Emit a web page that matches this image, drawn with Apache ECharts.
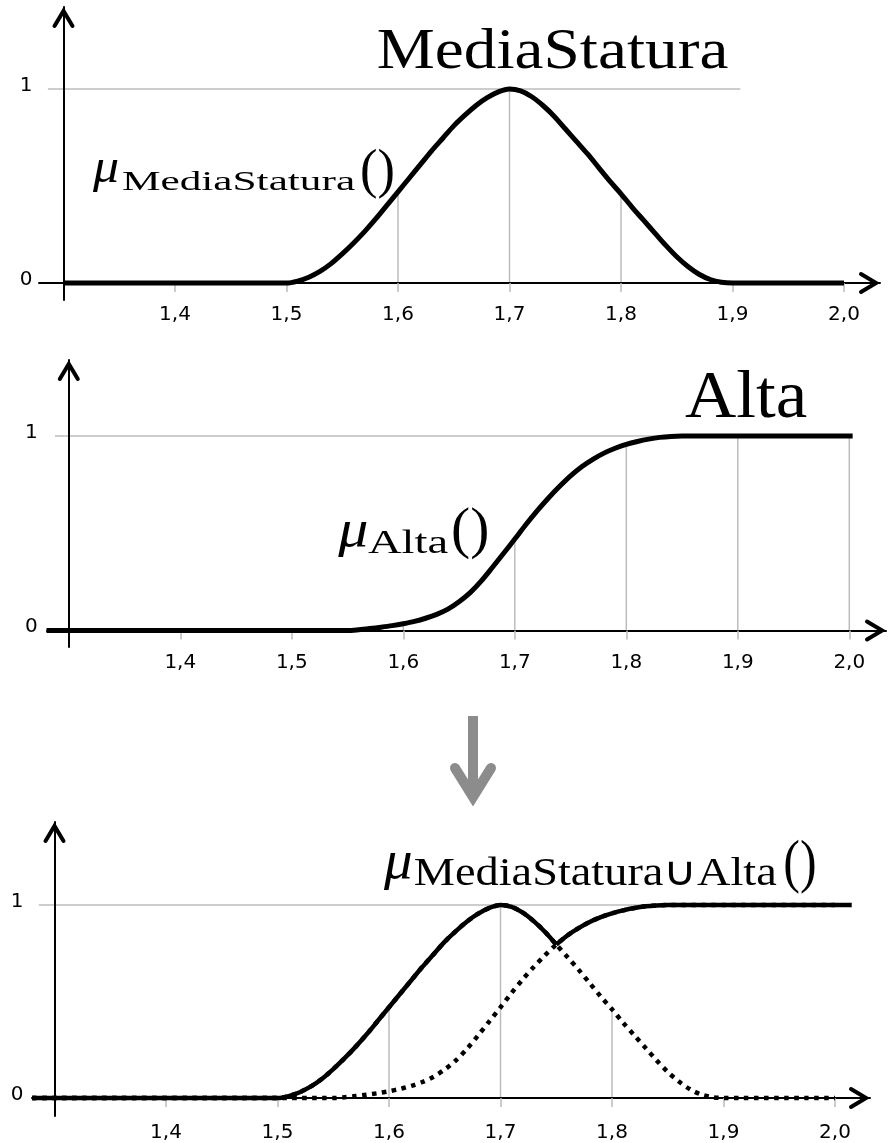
<!DOCTYPE html>
<html>
<head>
<meta charset="utf-8">
<script src="https://cdn.jsdelivr.net/npm/echarts@6.0.0/dist/echarts.min.js"></script>
<style>
  html, body { margin: 0; padding: 0; background: #fff; }
  #chart { width: 890px; height: 1143px; }
</style>
</head>
<body>
<div id="chart"></div>
<script>
// Heights (m) at which the two membership functions are sampled
const heights = [
  1.30,
  1.50, 1.51, 1.52, 1.53, 1.54, 1.55, 1.56, 1.57, 1.58, 1.59,
  1.60, 1.61, 1.62, 1.63, 1.64, 1.65, 1.66, 1.67, 1.68, 1.69,
  1.70, 1.71, 1.72, 1.73, 1.74, 1.75, 1.76, 1.77, 1.78, 1.79,
  1.80, 1.81, 1.82, 1.83, 1.84, 1.85, 1.86, 1.87, 1.88, 1.89,
  1.90,
  2.00
];

// Membership degree of "MediaStatura"
const mediaStatura = [
  0,
  0, 0.01, 0.03, 0.06, 0.10, 0.15, 0.205, 0.265, 0.33, 0.40,
  0.47, 0.54, 0.61, 0.68, 0.745, 0.81, 0.865, 0.915, 0.955, 0.985,
  1.00, 0.99, 0.96, 0.915, 0.86, 0.795, 0.73, 0.665, 0.595, 0.525,
  0.46, 0.39, 0.325, 0.26, 0.195, 0.135, 0.085, 0.045, 0.018, 0.004,
  0,
  0
];

// Membership degree of "Alta"
const alta = [
  0,
  0, 0, 0, 0, 0, 0, 0.004, 0.01, 0.017, 0.025,
  0.035, 0.047, 0.063, 0.083, 0.11, 0.148, 0.195, 0.255, 0.325, 0.397,
  0.47, 0.545, 0.615, 0.68, 0.74, 0.795, 0.842, 0.88, 0.912, 0.937,
  0.957, 0.972, 0.984, 0.993, 0.998, 1, 1, 1, 1, 1,
  1,
  1
];

const xTicks = [1.4, 1.5, 1.6, 1.7, 1.8, 1.9, 2.0];
const yTicks = [0, 1];

// Union of the two fuzzy sets: pointwise maximum
const union = mediaStatura.map((v, i) => Math.max(v, alta[i]));

// ---- helpers -------------------------------------------------------------
const toPoints = ys => heights.map((h, i) => [h, ys[i]]);
function pad(points, from, to) {
  const out = points.slice();
  if (from != null && from < out[0][0]) out.unshift([from, out[0][1]]);
  if (to != null && to > out[out.length - 1][0]) out.push([to, out[out.length - 1][1]]);
  return out;
}
function valueAt(ys, x) {
  const i = heights.findIndex(h => Math.abs(h - x) < 1e-9);
  return i >= 0 ? ys[i] : 0;
}
// index where "Alta" overtakes "MediaStatura" after its peak (the union's kink)
const peakIdx = mediaStatura.indexOf(Math.max.apply(null, mediaStatura));
const crossIdx = heights.findIndex((h, i) => i > peakIdx && alta[i] >= mediaStatura[i]);

const GRID_GRAY = '#bcbcbc';
const PX_PER_UNIT = 1115;          // horizontal pixels per metre
const TICK_FONT = 'DejaVu Sans';
const SERIF = 'Liberation Serif';
const CURVE_W = 5;
const SMOOTH = 0.3;

// Pixel geometry of each panel
const panels = [
  { left: 39, tipX: 880, originX: 63.5, top: 7,   bottom: 300,  y1: 89,  y0: 283,   labelMargin: 4.5, refLine: [1.286, 1.907] },
  { left: 47, tipX: 886, originX: 68.8, top: 360, bottom: 647,  y1: 436, y0: 630.5, labelMargin: 5.5, refLine: [1.2876, 2.0] },
  { left: 32, tipX: 870, originX: 54.5, top: 822, bottom: 1116, y1: 905, y0: 1098,  labelMargin: 6.5, refLine: [1.286, 2.0] }
];

const grids = [], xAxes = [], yAxes = [], series = [], arrowHeads = [];

panels.forEach((p, i) => {
  const pyu = p.y0 - p.y1;
  grids.push({
    left: p.left, top: p.top,
    width: p.tipX - p.left, height: p.bottom - p.top,
    containLabel: false, outerBoundsMode: 'none'
  });
  xAxes.push({
    gridIndex: i, type: 'value', z: 1,
    min: 1.3 - (p.originX - p.left) / PX_PER_UNIT,
    max: 1.3 + (p.tipX - p.originX) / PX_PER_UNIT,
    axisLine: { show: true, onZero: true, lineStyle: { color: '#000', width: 2 } },
    axisTick: { show: true, customValues: xTicks, length: 9, lineStyle: { color: GRID_GRAY, width: 1.5 } },
    axisLabel: {
      show: true, customValues: xTicks, margin: p.labelMargin,
      fontFamily: TICK_FONT, fontSize: 20, color: '#000',
      formatter: v => v.toFixed(1).replace('.', ',')
    },
    splitLine: { show: false }
  });
  yAxes.push({
    gridIndex: i, type: 'value', z: 1,
    min: -(p.bottom - p.y0) / pyu,
    max: 1 + (p.y1 - p.top) / pyu,
    offset: -(p.originX - p.left),
    axisLine: { show: true, onZero: false, lineStyle: { color: '#000', width: 2 } },
    axisTick: { show: false },
    axisLabel: {
      show: true, customValues: yTicks, margin: 31,
      fontFamily: TICK_FONT, fontSize: 20, color: '#000',
      verticalAlign: 'bottom', lineHeight: 7
    },
    splitLine: { show: false }
  });

  // reference line at membership 1
  series.push({
    type: 'line', xAxisIndex: i, yAxisIndex: i, z: 0, silent: true,
    clip: false, showSymbol: false, animation: false,
    data: [[p.refLine[0], 1], [p.refLine[1], 1]],
    lineStyle: { color: GRID_GRAY, width: 1.5 }
  });

  // open arrow heads at the ends of both axes
  const head = { stroke: '#000', lineWidth: 4, lineCap: 'round', lineJoin: 'miter', fill: null };
  arrowHeads.push({
    type: 'polyline', silent: true, z: 5,
    shape: { points: [[p.originX - 9, p.top + 19], [p.originX, p.top + 3.9], [p.originX + 9, p.top + 19]] },
    style: head
  });
  arrowHeads.push({
    type: 'polyline', silent: true, z: 5,
    shape: { points: [[p.tipX - 19, p.y0 - 9], [p.tipX - 3.9, p.y0], [p.tipX - 19, p.y0 + 9]] },
    style: head
  });
});

// vertical guide lines from the axis to a curve at each tick
function dropLines(idx, ys) {
  return {
    type: 'custom', xAxisIndex: idx, yAxisIndex: idx, z: 0, silent: true, animation: false,
    data: xTicks.map(x => [x, valueAt(ys, x)]),
    renderItem(params, api) {
      const a = api.coord([api.value(0), 0]);
      const b = api.coord([api.value(0), api.value(1)]);
      return { type: 'line', shape: { x1: a[0], y1: a[1], x2: b[0], y2: b[1] },
               style: { stroke: GRID_GRAY, lineWidth: 1.5 } };
    }
  };
}
function curve(idx, points, style, z) {
  return {
    type: 'line', xAxisIndex: idx, yAxisIndex: idx, z: z || 2, silent: true,
    clip: false, showSymbol: false, animation: false,
    smooth: SMOOTH,
    data: points, lineStyle: Object.assign({ cap: 'butt', join: 'round' }, style)
  };
}

const solid = { color: '#000', width: CURVE_W };
const dotted = { color: '#000', width: 4.5, type: [4.5, 5.5] };

series.push(dropLines(0, mediaStatura));
series.push(curve(0, toPoints(mediaStatura), solid));

series.push(dropLines(1, alta));
series.push(curve(1, pad(toPoints(alta), 1.28, 2.003), solid));

series.push(dropLines(2, mediaStatura));
series.push(curve(2, pad(toPoints(mediaStatura), 1.28, 2.0), dotted));
series.push(curve(2, pad(toPoints(alta), 1.28, 2.0), dotted));
const unionPts = toPoints(union);
series.push(curve(2, pad(unionPts.slice(0, crossIdx + 1), 1.28, null), { color: '#000', width: 4.5 }, 3));
series.push(curve(2, pad(unionPts.slice(crossIdx), null, 2.015), { color: '#000', width: 4.5 }, 3));

// ---- text set in a serif face, fitted to a horizontal span ---------------
const ctx = document.createElement('canvas').getContext('2d');
function fitText(text, size, fontStyle, left, right, baseline) {
  const font = `${fontStyle} normal ${size}px ${SERIF}`;
  ctx.font = font;
  ctx.textBaseline = 'alphabetic';
  const m = ctx.measureText(text);
  const capA = ctx.measureText('M').actualBoundingBoxAscent;
  ctx.textBaseline = 'middle';
  const capM = ctx.measureText('M').actualBoundingBoxAscent;
  const mid = capA - capM;
  const inkL = m.actualBoundingBoxLeft;
  const inkW = m.actualBoundingBoxLeft + m.actualBoundingBoxRight;
  const sx = (right - left) / inkW;
  return {
    type: 'text', x: left + inkL * sx, y: baseline - mid, scaleX: sx, silent: true, z: 10,
    style: {
      text: text, fontSize: size, fontFamily: SERIF, fontStyle: fontStyle,
      fill: '#000', align: 'left', verticalAlign: 'middle'
    }
  };
}

const texts = [
  fitText('MediaStatura', 57, 'normal', 378, 728, 68),
  fitText('Alta', 68, 'normal', 685, 807, 417),

  fitText('\u03bc', 48, 'italic', 92, 118, 182),
  fitText('MediaStatura', 28, 'normal', 122, 356, 190),
  fitText('()', 54, 'normal', 362, 393, 187),

  fitText('\u03bc', 52, 'italic', 337, 367, 546),
  fitText('Alta', 34, 'normal', 368, 448, 553),
  fitText('()', 58, 'normal', 453, 487, 547),

  fitText('\u03bc', 55, 'italic', 383, 411, 878),
  fitText('MediaStatura\u222aAlta', 40, 'normal', 415, 777, 885),
  fitText('()', 60, 'normal', 785, 815, 881)
];

// gray arrow leading to the union panel
const ARROW_GRAY = '#8c8c8c';
const arrow = {
  type: 'group', silent: true,
  children: [
    { type: 'line', shape: { x1: 473, y1: 716, x2: 473, y2: 796 },
      style: { stroke: ARROW_GRAY, lineWidth: 10 } },
    { type: 'polyline', shape: { points: [[455, 768], [473, 797], [491, 768]] },
      style: { stroke: ARROW_GRAY, lineWidth: 10, lineCap: 'round', lineJoin: 'miter', fill: null } }
  ]
};

const chart = echarts.init(document.getElementById('chart'), null, { renderer: 'canvas' });
chart.setOption({
  animation: false,
  backgroundColor: '#fff',
  grid: grids,
  xAxis: xAxes,
  yAxis: yAxes,
  series: series,
  graphic: { elements: texts.concat(arrowHeads, [arrow]) }
});
</script>
</body>
</html>
